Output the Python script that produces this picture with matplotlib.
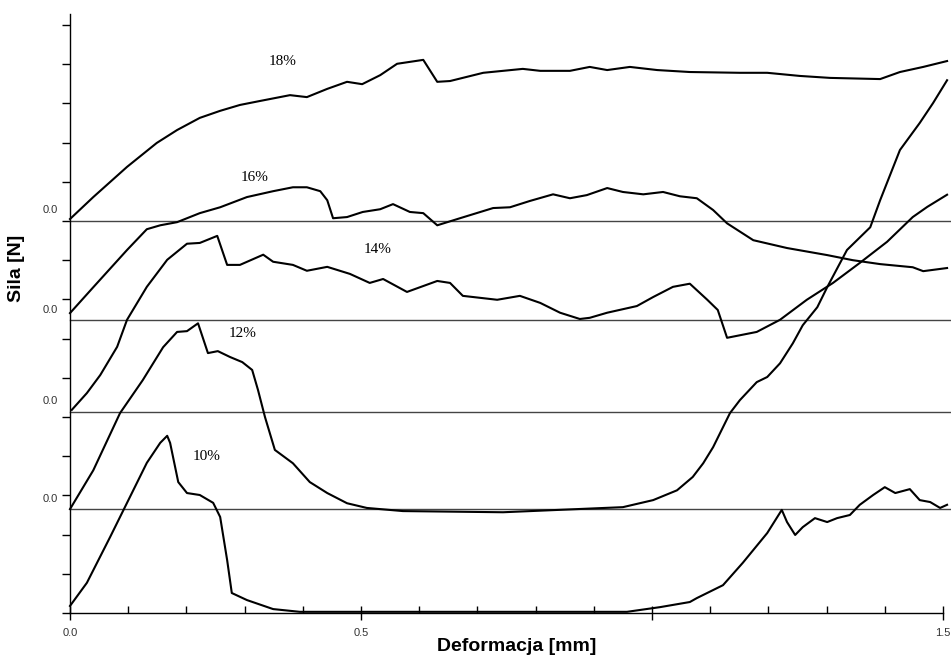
import matplotlib
matplotlib.use("Agg")
import matplotlib.pyplot as plt
from matplotlib.ticker import MultipleLocator, FixedLocator

# Stacked force-deformation curves, each shifted up to its own zero line.
labels = ["10%", "12%", "14%", "16%", "18%"]
offsets = [0.0, 2.65, 5.13, 7.47, 10.0]

x10 = [0, 0.029, 0.069, 0.103, 0.132, 0.155, 0.167, 0.172, 0.186, 0.201, 0.223, 0.246,
       0.258, 0.270, 0.278, 0.304, 0.349, 0.395, 0.957, 1.014, 1.065, 1.077, 1.122, 1.156,
       1.198, 1.223, 1.232, 1.246, 1.259, 1.280, 1.301, 1.318, 1.340, 1.357, 1.380, 1.400,
       1.418, 1.443, 1.460, 1.478, 1.495, 1.507]
y10 = [0.18, 0.77, 1.94, 2.96, 3.83, 4.34, 4.52, 4.34, 3.34, 3.06, 3.01, 2.81,
       2.45, 1.35, 0.51, 0.33, 0.10, 0.03, 0.03, 0.15, 0.28, 0.38, 0.71, 1.28,
       2.04, 2.63, 2.32, 1.99, 2.19, 2.42, 2.32, 2.42, 2.50, 2.76, 3.01, 3.21,
       3.06, 3.16, 2.88, 2.83, 2.68, 2.76]

x12 = [0, 0.040, 0.086, 0.125, 0.160, 0.184, 0.201, 0.220, 0.237, 0.254, 0.275, 0.296,
       0.313, 0.323, 0.335, 0.352, 0.383, 0.412, 0.442, 0.476, 0.510, 0.572, 0.744, 0.871,
       0.950, 1.002, 1.043, 1.070, 1.088, 1.105, 1.134, 1.151, 1.180, 1.198, 1.220, 1.242,
       1.259, 1.284, 1.301, 1.335, 1.375, 1.392, 1.426, 1.460, 1.483, 1.507]
y12 = [0, 0.99, 2.45, 3.29, 4.13, 4.52, 4.54, 4.74, 3.98, 4.03, 3.88, 3.75,
       3.55, 3.04, 2.35, 1.51, 1.17, 0.69, 0.41, 0.15, 0.03, -0.05, -0.08, 0,
       0.05, 0.23, 0.48, 0.82, 1.17, 1.58, 2.45, 2.78, 3.24, 3.37, 3.72, 4.23,
       4.69, 5.15, 5.66, 6.61, 7.19, 7.88, 9.16, 9.85, 10.36, 10.94]

x14 = [0.003, 0.029, 0.052, 0.081, 0.098, 0.132, 0.167, 0.201, 0.223, 0.253, 0.270, 0.292,
       0.332, 0.349, 0.383, 0.407, 0.442, 0.481, 0.515, 0.538, 0.579, 0.631, 0.653, 0.675,
       0.734, 0.773, 0.808, 0.842, 0.876, 0.893, 0.923, 0.974, 1.002, 1.036, 1.065, 1.095,
       1.113, 1.129, 1.180, 1.220, 1.266, 1.311, 1.357, 1.404, 1.448, 1.473, 1.507]
y14 = [0.05, 0.48, 0.94, 1.66, 2.35, 3.19, 3.88, 4.29, 4.31, 4.49, 3.75, 3.75,
       4.01, 3.83, 3.75, 3.60, 3.70, 3.52, 3.29, 3.39, 3.06, 3.34, 3.29, 2.96,
       2.86, 2.96, 2.78, 2.53, 2.37, 2.40, 2.53, 2.70, 2.93, 3.19, 3.27, 2.86,
       2.60, 1.89, 2.04, 2.35, 2.86, 3.29, 3.80, 4.34, 4.97, 5.23, 5.54]

x16 = [0, 0.040, 0.098, 0.132, 0.155, 0.184, 0.223, 0.258, 0.304, 0.349, 0.383, 0.407,
       0.430, 0.442, 0.452, 0.476, 0.503, 0.533, 0.555, 0.584, 0.607, 0.631, 0.670, 0.727,
       0.756, 0.790, 0.830, 0.859, 0.888, 0.923, 0.950, 0.985, 1.019, 1.048, 1.077, 1.105,
       1.129, 1.174, 1.232, 1.301, 1.345, 1.392, 1.448, 1.466, 1.507]
y16 = [0.18, 0.84, 1.79, 2.32, 2.42, 2.50, 2.73, 2.88, 3.14, 3.29, 3.39, 3.39,
       3.29, 3.06, 2.60, 2.63, 2.76, 2.83, 2.96, 2.76, 2.73, 2.42, 2.60, 2.86,
       2.88, 3.04, 3.21, 3.11, 3.19, 3.37, 3.27, 3.21, 3.27, 3.16, 3.11, 2.81,
       2.47, 2.04, 1.84, 1.66, 1.53, 1.43, 1.35, 1.25, 1.33]

x18 = [0, 0.040, 0.098, 0.149, 0.184, 0.223, 0.258, 0.292, 0.326, 0.378, 0.407, 0.442,
       0.476, 0.502, 0.533, 0.562, 0.607, 0.631, 0.653, 0.710, 0.778, 0.808, 0.859, 0.893,
       0.923, 0.962, 1.009, 1.065, 1.151, 1.198, 1.254, 1.306, 1.392, 1.426, 1.466, 1.507]
y18 = [0.05, 0.61, 1.38, 1.99, 2.32, 2.63, 2.81, 2.96, 3.06, 3.21, 3.16, 3.37,
       3.55, 3.49, 3.72, 4.01, 4.11, 3.55, 3.57, 3.78, 3.88, 3.83, 3.83, 3.93,
       3.85, 3.93, 3.85, 3.80, 3.78, 3.78, 3.70, 3.65, 3.62, 3.80, 3.93, 4.08]

curves_x = [x10, x12, x14, x16, x18]
curves_y = [y10, y12, y14, y16, y18]

# where each percentage label sits (data coords of the stacked plot)
label_x = [0.235, 0.297, 0.529, 0.318, 0.366]
label_y = [3.98, 7.14, 9.26, 11.12, 14.06]

x_max = 1.5
y_top = 15.28

narrow = ["Liberation Sans Narrow", "Liberation Sans", "DejaVu Sans"]

fig = plt.figure(figsize=(9.51, 6.60), dpi=100)
ax = fig.add_axes([70 / 951, 47 / 660, 873 / 951, 599 / 660])

for xs, ys, off in zip(curves_x, curves_y, offsets):
    ax.plot(xs, [v + off for v in ys], color="black", lw=1.5, clip_on=False,
            solid_joinstyle="round", zorder=3)

for off in offsets[1:]:
    ax.plot([0, 1.515], [off, off], color="#444444", lw=1.0, clip_on=False, zorder=2)
    ax.text(-0.02, off + 0.27, "0.0", ha="right", va="center", fontsize=8,
            color="#333333", family=narrow)

for lab, lx, ly in zip(labels, label_x, label_y):
    ax.text(lx, ly, lab, ha="center", va="center", fontsize=11,
            family=["Liberation Serif", "DejaVu Serif"])

ax.set_xlim(0, x_max)
ax.set_ylim(0, y_top)

for side in ("top", "right"):
    ax.spines[side].set_visible(False)
for side in ("left", "bottom"):
    ax.spines[side].set_linewidth(1.0)

ax.xaxis.set_major_locator(FixedLocator([0.0, 0.5, 1.0, 1.5]))
ax.xaxis.set_minor_locator(MultipleLocator(0.1))
ax.set_xticklabels(["0.0", "0.5", "", "1.5"])
ax.tick_params(axis="x", which="major", direction="inout", length=10, width=1,
               labelsize=8, labelcolor="#333333", pad=6)
ax.tick_params(axis="x", which="minor", direction="in", length=5, width=1)
for t in ax.get_xticklabels():
    t.set_family(narrow)

ax.yaxis.set_major_locator(MultipleLocator(1))
ax.tick_params(axis="y", which="major", direction="out", length=6, width=1,
               labelleft=False)

ax.set_xlabel("Deformacja [mm]", fontsize=14, fontweight="bold", family=narrow)
ax.xaxis.set_label_coords(0.512, -0.042)
ax.set_ylabel("Sila [N]", fontsize=14, fontweight="bold", family=narrow)
ax.yaxis.set_label_coords(-0.051, 0.575)

fig.savefig("out.png", dpi=100)
